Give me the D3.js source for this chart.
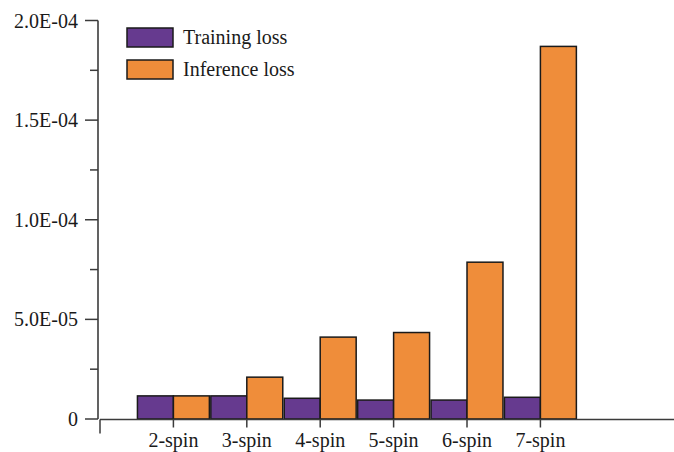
<!DOCTYPE html>
<html>
<head>
<meta charset="utf-8">
<script src="https://cdn.jsdelivr.net/npm/d3@7/dist/d3.min.js"></script>
<style>
  html, body { margin: 0; padding: 0; background: #fff; }
  svg { display: block; font-family: "Liberation Serif", "DejaVu Serif", serif; }
</style>
</head>
<body>
<svg id="chart" width="674" height="452"></svg>
<script>
// Loss per system size
const categories = ["2-spin", "3-spin", "4-spin", "5-spin", "6-spin", "7-spin"];
const trainingLoss = [1.16e-5, 1.16e-5, 1.04e-5, 0.95e-5, 0.95e-5, 1.09e-5];
const inferenceLoss = [1.16e-5, 2.10e-5, 4.11e-5, 4.34e-5, 7.87e-5, 1.87e-4];
const seriesNames = ["Training loss", "Inference loss"];
const seriesColors = ["#663a8f", "#ef8d3a"];
const yMajorTicks = [0, 5e-5, 1e-4, 1.5e-4, 2e-4];
const yMajorLabels = ["0", "5.0E-05", "1.0E-04", "1.5E-04", "2.0E-04"];
const yMinorTicks = [2.5e-5, 7.5e-5, 1.25e-4, 1.75e-4];

const svg = d3.select("#chart");
const axisColor = "#3b3b3b";

const y = d3.scaleLinear().domain([0, 2e-4]).range([419, 20.5]);
// category i sits at position i + 1 along the x axis
const x = d3.scaleLinear().domain([0, 7.82]).range([100, 674]);
const halfW = 0.49; // bar width in axis units

// Bars
const rows = categories.map((c, i) => ({ c, i, vals: [trainingLoss[i], inferenceLoss[i]] }));
const g = svg.append("g");
rows.forEach(r => {
  const cx = r.i + 1;
  r.vals.forEach((v, s) => {
    const x0 = s === 0 ? x(cx - halfW) : x(cx);
    const x1 = s === 0 ? x(cx) : x(cx + halfW);
    g.append("rect")
      .attr("x", x0)
      .attr("y", y(v))
      .attr("width", x1 - x0)
      .attr("height", y(0) - y(v))
      .attr("fill", seriesColors[s])
      .attr("stroke", "#1a1a1a")
      .attr("stroke-width", 1.5);
  });
});

// Y axis (major ticks with labels, minor ticks without)
const yAxis = svg.append("g").attr("transform", "translate(98,0)");
yAxis.append("line")
  .attr("x1", 0).attr("x2", 0).attr("y1", y(2e-4)).attr("y2", y(0))
  .attr("stroke", axisColor).attr("stroke-width", 1.6);
yMajorTicks.forEach((t, k) => {
  yAxis.append("line")
    .attr("x1", -13).attr("x2", 0).attr("y1", y(t)).attr("y2", y(t))
    .attr("stroke", axisColor).attr("stroke-width", 1.5);
  yAxis.append("text")
    .attr("x", -20).attr("y", y(t)).attr("dy", "0.35em")
    .attr("text-anchor", "end")
    .attr("font-size", 20).attr("fill", "#1a1a1a")
    .text(yMajorLabels[k]);
});
yMinorTicks.forEach(t => {
  yAxis.append("line")
    .attr("x1", -8).attr("x2", 0).attr("y1", y(t)).attr("y2", y(t))
    .attr("stroke", axisColor).attr("stroke-width", 1.5);
});

// X axis
const xAxis = svg.append("g").attr("transform", `translate(0,${y(0) + 0.5})`);
xAxis.append("line")
  .attr("x1", x(0)).attr("x2", 674).attr("y1", 0).attr("y2", 0)
  .attr("stroke", axisColor).attr("stroke-width", 1.5);
xAxis.append("line")
  .attr("x1", x(0)).attr("x2", x(0)).attr("y1", 0).attr("y2", 14)
  .attr("stroke", axisColor).attr("stroke-width", 1.5);
categories.forEach((c, i) => {
  xAxis.append("line")
    .attr("x1", x(i + 1)).attr("x2", x(i + 1)).attr("y1", 0).attr("y2", 8)
    .attr("stroke", axisColor).attr("stroke-width", 1.5);
  xAxis.append("text")
    .attr("x", x(i + 1)).attr("y", 27)
    .attr("text-anchor", "middle")
    .attr("font-size", 20).attr("fill", "#1a1a1a")
    .text(c);
});

// Legend
const legend = svg.append("g").attr("transform", "translate(127,28)");
seriesNames.forEach((n, s) => {
  const row = legend.append("g").attr("transform", `translate(0,${s * 32})`);
  row.append("rect")
    .attr("x", 0).attr("y", 0).attr("width", 46).attr("height", 19)
    .attr("fill", seriesColors[s]).attr("stroke", "#1a1a1a").attr("stroke-width", 1.5);
  row.append("text")
    .attr("x", 56).attr("y", 16)
    .attr("font-size", 20).attr("fill", "#1a1a1a")
    .text(n);
});
</script>
</body>
</html>
